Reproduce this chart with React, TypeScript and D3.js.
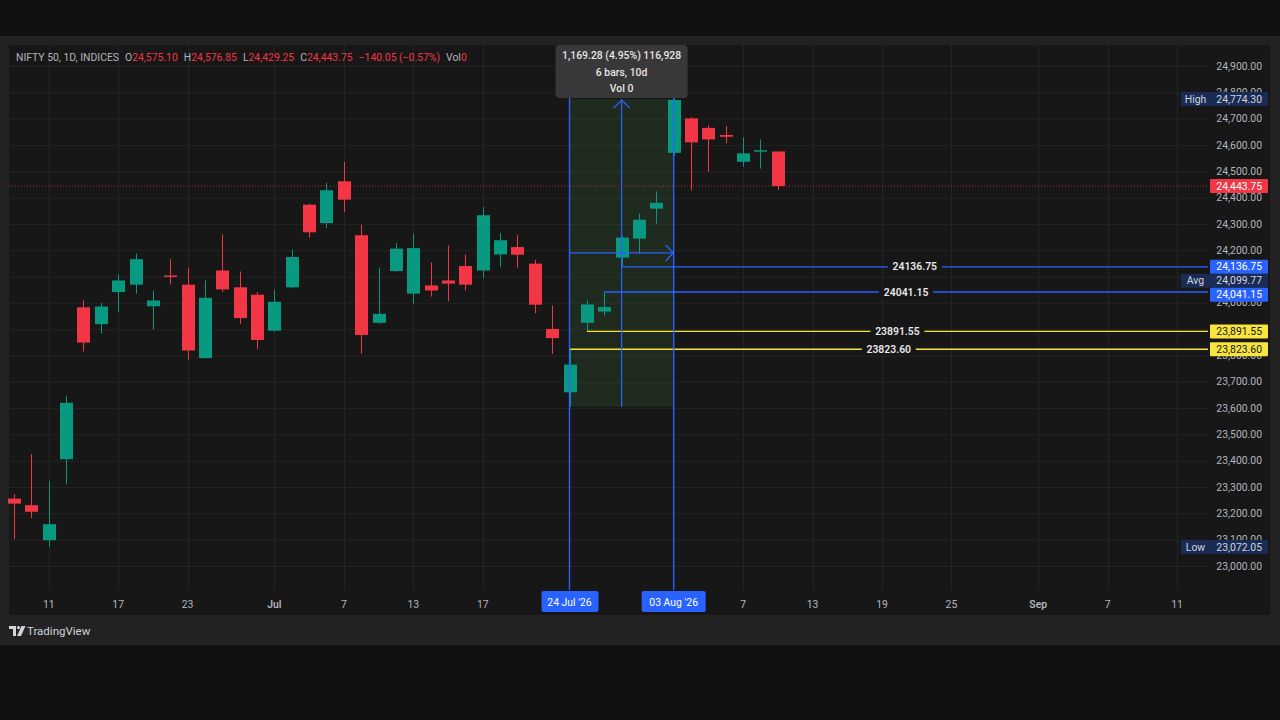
import React from 'react';
import * as d3 from 'd3';

// ---- Data ----
const opens = [23256, 23231, 23098, 23406, 23983, 23919, 24041, 24069, 23987, 24104, 24069, 23790, 24123, 24059, 24031, 23894, 24059, 24373, 24303, 24462, 24257, 23924, 24121, 24035, 24066, 24085, 24140, 24123, 24184, 24212, 24149, 23901, 23660, 23924, 23967, 24172, 24244, 24358, 24570, 24701, 24665, 24638, 24536, 24576, 24575.10];
const highs = [23273, 23425, 23324, 23647, 24009, 23999, 24108, 24187, 24047, 24166, 24134, 24085, 24260, 24119, 24041, 24050, 24202, 24376, 24456, 24536, 24297, 24134, 24227, 24263, 24153, 24218, 24184, 24364, 24265, 24257, 24164, 23990, 23823.60, 24009, 24041.15, 24255, 24339, 24424, 24774.30, 24705, 24675, 24672, 24629, 24621, 24576.85];
const lows = [23102, 23182, 23072.05, 23311, 23815, 23884, 23965, 24035, 23898, 24070, 23783, 23788, 24041, 23920, 23825, 23890, 24055, 24248, 24284, 24345, 23806, 23920, 24118, 23997, 24024, 24006, 24047, 24092, 24136, 24134, 23961, 23806, 23605.02, 23891.55, 23952, 24136.75, 24189, 24301, 24560, 24428, 24498, 24606, 24517, 24510, 24429.25];
const closes = [23237, 23206, 23159, 23620, 23849, 23986, 24085, 24166, 24009, 24098, 23819, 24019, 24051, 23942, 23859, 24004, 24174, 24268, 24428, 24392, 23878, 23958, 24206, 24208, 24047, 24073, 24069, 24333, 24238, 24183, 23993, 23866, 23765, 23994, 23984, 24248, 24316, 24380, 24771, 24610, 24621, 24631, 24568, 24580, 24443.75];

const xTickIndex = [2, 6, 10, 15, 19, 23, 27, 42, 46, 50, 54, 59, 63, 67];
const xTickLabels = ['11', '17', '23', 'Jul', '7', '13', '17', '7', '13', '19', '25', 'Sep', '7', '11'];
const monthTicks = ['Jul', 'Sep'];

const levelPrices = [24136.75, 24041.15, 23891.55, 23823.60];
const levelStartIdx = [35, 34, 33, 32];
const levelKinds = ['blue', 'blue', 'yellow', 'yellow'];

const rangeStartIdx = 32;
const rangeEndIdx = 38;
const rangeTop = 24774.30;
const rangeBottom = 23605.02;
const rangeDays = 10;
const rangeVol = 0;
const rangeStartLabel = "24 Jul '26";
const rangeEndLabel = "03 Aug '26";

const highValue = 24774.30;
const lowValue = 23072.05;
const avgValue = 24099.77;

const headerTitle = 'NIFTY 50, 1D, INDICES';
const headerO = '24,575.10';
const headerH = '24,576.85';
const headerL = '24,429.25';
const headerC = '24,443.75';
const headerChg = '\u2212140.05 (\u22120.57%)';
const headerVol = '0';

// ---- Styles ----
const UP = '#089981';
const DOWN = '#f23645';
const BLUE = '#2962ff';
const YELLOW = '#f7e43c';
const NAVY = '#1a2b55';
const TEXT = '#b2b5be';
const FONT = 'Roboto, "Noto Sans", sans-serif';
const FS = 10.4;

export default function App() {
  const left = 9, right = 1208, top = 45, bottom = 590;
  const x = d3.scaleLinear().domain([0, 67]).range([14, 14 + 67 * 17.36]);
  const y = d3.scaleLinear().domain([23000, 24900]).range([566, 66]);
  const yTicks = d3.range(23000, 24901, 100);
  const bodyW = 13;
  const fmt2 = d3.format(',.2f');
  const fmtPlain = d3.format('.2f');
  const last = closes.length - 1;

  type Badge = { price: number; bg: string; fg: string; tag?: string };
  const badges: Badge[] = [
    { price: highValue, bg: NAVY, fg: '#d1d4dc', tag: 'High' },
    { price: closes[last], bg: DOWN, fg: '#ffffff' },
    { price: levelPrices[0], bg: BLUE, fg: '#ffffff' },
    { price: avgValue, bg: NAVY, fg: '#d1d4dc', tag: 'Avg' },
    { price: levelPrices[1], bg: BLUE, fg: '#ffffff' },
    { price: levelPrices[2], bg: YELLOW, fg: '#131722' },
    { price: levelPrices[3], bg: YELLOW, fg: '#131722' },
    { price: lowValue, bg: NAVY, fg: '#d1d4dc', tag: 'Low' },
  ];
  const bh = 14;
  const placed = badges
    .map(b => ({ ...b, cy: y(b.price) }))
    .sort((a, b) => a.cy - b.cy);
  for (let i = 1; i < placed.length; i++) {
    if (placed[i].cy - placed[i - 1].cy < bh) placed[i].cy = placed[i - 1].cy + bh;
  }

  const rx0 = x(rangeStartIdx), rx1 = x(rangeEndIdx);
  const ry0 = y(rangeTop), ry1 = y(rangeBottom);
  const rmx = (rx0 + rx1) / 2, rmy = (ry0 + ry1) / 2;
  const diff = rangeTop - rangeBottom;
  const pct = (diff / rangeBottom) * 100;
  const tipLine1 = `${fmt2(diff)} (${pct.toFixed(2)}%) ${d3.format(',')(Math.round(diff * 100))}`;
  const tipLine2 = `${rangeEndIdx - rangeStartIdx} bars, ${rangeDays}d`;
  const tipLine3 = `Vol ${rangeVol}`;

  return (
    <div style={{ position: 'absolute', left: 0, top: 0, width: 1280, height: 720 }}>
      <svg width={1280} height={720} style={{ display: 'block', fontFamily: FONT }}>
        <rect x={0} y={0} width={1280} height={720} fill="#101010" />
        <rect x={0} y={36} width={1280} height={609} fill="#222222" />
        <rect x={left} y={top} width={1270 - left} height={615 - top} fill="#171717" />

        {/* grid */}
        {yTicks.map(t => (
          <line key={'gy' + t} x1={left} x2={right} y1={y(t) + 0.5} y2={y(t) + 0.5} stroke="#242424" strokeWidth={1} />
        ))}
        {xTickIndex.map(i => (
          <line key={'gx' + i} x1={Math.round(x(i)) + 0.5} x2={Math.round(x(i)) + 0.5} y1={top} y2={bottom} stroke="#242424" strokeWidth={1} />
        ))}

        {/* range shading */}
        <rect x={rx0} y={ry0} width={rx1 - rx0} height={ry1 - ry0} fill="rgba(76,175,80,0.13)" />

        {/* current price dotted line */}
        <line x1={left} x2={right} y1={y(closes[last])} y2={y(closes[last])} stroke={DOWN} strokeOpacity={0.7} strokeWidth={1} strokeDasharray="1 2" />

        {/* candles */}
        {closes.map((c, i) => {
          const o = opens[i];
          const up = c >= o;
          const col = up ? UP : DOWN;
          const cx = Math.round(x(i));
          const yTop = y(Math.max(o, c));
          const yBot = y(Math.min(o, c));
          return (
            <g key={'c' + i}>
              <line x1={cx + 0.5} x2={cx + 0.5} y1={y(highs[i])} y2={y(lows[i])} stroke={col} strokeWidth={1} />
              <rect x={cx - (bodyW - 1) / 2} y={yTop} width={bodyW} height={Math.max(1.5, yBot - yTop)} fill={col} />
            </g>
          );
        })}

        {/* level lines */}
        {levelPrices.map((p, k) => {
          const col = levelKinds[k] === 'blue' ? BLUE : YELLOW;
          const x0 = x(levelStartIdx[k]);
          const yy = y(p);
          const mid = (x0 + right) / 2;
          return (
            <g key={'lv' + k}>
              <line x1={x0} x2={right} y1={yy} y2={yy} stroke={col} strokeWidth={1.3} />
              <rect x={mid - 27} y={yy - 6} width={54} height={12} fill="#171717" />
              <text x={mid} y={yy} dy="0.35em" textAnchor="middle" fontSize={FS} fontWeight={600} fill="#e8e8e8">{fmtPlain(p)}</text>
            </g>
          );
        })}

        {/* range lines & arrows */}
        <line x1={rx0} x2={rx0} y1={top} y2={bottom} stroke={BLUE} strokeWidth={1.4} />
        <line x1={rx1} x2={rx1} y1={top} y2={bottom} stroke={BLUE} strokeWidth={1.4} />
        <line x1={rmx} x2={rmx} y1={ry1} y2={ry0} stroke={BLUE} strokeWidth={1.2} />
        <path d={`M${rmx - 8},${ry0 + 9} L${rmx},${ry0 + 1} L${rmx + 8},${ry0 + 9}`} fill="none" stroke={BLUE} strokeWidth={1.3} />
        <line x1={rx0} x2={rx1} y1={rmy} y2={rmy} stroke={BLUE} strokeWidth={1.2} />
        <path d={`M${rx1 - 8},${rmy - 8} L${rx1 - 0.5},${rmy} L${rx1 - 8},${rmy + 8}`} fill="none" stroke={BLUE} strokeWidth={1.3} />

        {/* tooltip */}
        <rect x={rmx - 66} y={top} width={132} height={53} rx={4} fill="#3a3a3a" fillOpacity={0.95} />
        <text x={rmx} y={55} dy="0.35em" textAnchor="middle" fontSize={FS} fontWeight={500} fill="#e6e6e6">{tipLine1}</text>
        <text x={rmx} y={72} dy="0.35em" textAnchor="middle" fontSize={FS} fontWeight={500} fill="#e6e6e6">{tipLine2}</text>
        <text x={rmx} y={88} dy="0.35em" textAnchor="middle" fontSize={FS} fontWeight={500} fill="#e6e6e6">{tipLine3}</text>

        {/* header */}
        <text x={16} y={57} dy="0.35em" fontSize={FS} fill={TEXT}>
          <tspan>{headerTitle}</tspan>
          <tspan dx={6}>O</tspan><tspan fill={DOWN}>{headerO}</tspan>
          <tspan dx={6}>H</tspan><tspan fill={DOWN}>{headerH}</tspan>
          <tspan dx={6}>L</tspan><tspan fill={DOWN}>{headerL}</tspan>
          <tspan dx={6}>C</tspan><tspan fill={DOWN}>{headerC}</tspan>
          <tspan dx={6} fill={DOWN}>{headerChg}</tspan>
          <tspan dx={6}>Vol</tspan><tspan fill={DOWN}>{headerVol}</tspan>
        </text>

        {/* price axis */}
        {yTicks.map(t => (
          <text key={'yt' + t} x={1262} y={y(t)} dy="0.35em" textAnchor="end" fontSize={FS} fill={TEXT}>{fmt2(t)}</text>
        ))}
        {placed.map((b, k) => (
          <g key={'b' + k}>
            {b.tag && (
              <g>
                <rect x={1181} y={b.cy - bh / 2} width={29} height={bh} rx={1} fill={b.bg} />
                <text x={1195.5} y={b.cy} dy="0.35em" textAnchor="middle" fontSize={FS} fill={b.fg}>{b.tag}</text>
              </g>
            )}
            <rect x={1210} y={b.cy - bh / 2} width={58} height={bh} rx={1} fill={b.bg} />
            <text x={1262} y={b.cy} dy="0.35em" textAnchor="end" fontSize={FS} fill={b.fg}>{fmt2(b.price)}</text>
          </g>
        ))}

        {/* time axis */}
        {xTickIndex.map((i, k) => (
          <text key={'xt' + i} x={x(i)} y={604} dy="0.35em" textAnchor="middle" fontSize={FS}
            fontWeight={monthTicks.includes(xTickLabels[k]) ? 600 : 400} fill={TEXT}>{xTickLabels[k]}</text>
        ))}
        <rect x={rx0 - 28} y={591} width={57} height={21} rx={2} fill={BLUE} />
        <text x={rx0} y={602} dy="0.35em" textAnchor="middle" fontSize={FS} fill="#ffffff">{rangeStartLabel}</text>
        <rect x={rx1 - 32} y={591} width={64} height={21} rx={2} fill={BLUE} />
        <text x={rx1} y={602} dy="0.35em" textAnchor="middle" fontSize={FS} fill="#ffffff">{rangeEndLabel}</text>

        {/* TradingView logo */}
        <g transform="translate(9,626)" fill="#d1d4dc">
          <path d="M0 0h7v10H4V3H0z" />
          <circle cx={9.5} cy={1.6} r={1.6} />
          <path d="M12.5 0h4l-4.5 10H8z" />
        </g>
        <text x={27} y={631} dy="0.35em" fontSize={11.5} fill="#d1d4dc">TradingView</text>
      </svg>
    </div>
  );
}
